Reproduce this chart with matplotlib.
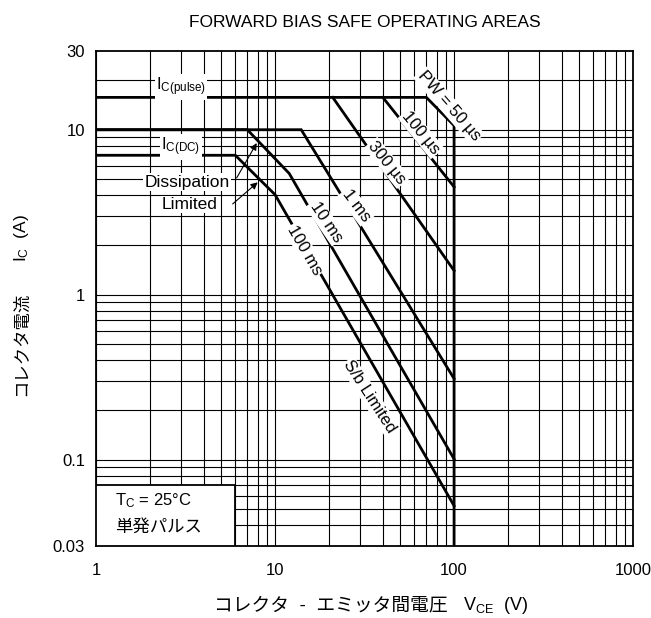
import numpy as np
import matplotlib
matplotlib.use("Agg")
from matplotlib import pyplot as plt
from matplotlib.patches import Rectangle

plt.rcParams['font.family'] = ['Liberation Sans', 'Noto Sans CJK JP']
plt.rcParams['mathtext.fontset'] = 'custom'
plt.rcParams['mathtext.rm'] = 'Liberation Sans'
plt.rcParams['mathtext.it'] = 'Liberation Sans:italic'

# curve data (VCE in V, IC in A)
vce_50us = [1, 70, 100, 100]
ic_50us = [15.7, 15.7, 10.6, 0.03]
vce_100us = [40, 100]
ic_100us = [15.7, 4.5]
vce_300us = [21, 100]
ic_300us = [15.7, 1.4]
vce_1ms = [1, 14, 100]
ic_1ms = [10, 10, 0.31]
vce_10ms = [1, 7, 12, 100]
ic_10ms = [10, 10, 5.43, 0.101]
vce_100ms = [1, 6, 10, 100]
ic_100ms = [7, 7, 4.04, 0.0526]

x_ticks = [1, 10, 100, 1000]
x_tick_labels = ['1', '10', '100', '1000']
y_ticks = [0.03, 0.1, 1, 10, 30]
y_tick_labels = ['0.03', '0.1', '1', '10', '30']

fig = plt.figure(figsize=(6.51, 6.18), dpi=100)
ax = fig.add_axes([0.1475, 0.1165, 0.825, 0.801])
ax.set_xscale('log')
ax.set_yscale('log')
ax.set_xlim(1, 1000)
ax.set_ylim(0.03, 30)

# log paper grid
for dec in [1, 10, 100]:
    for m in range(1, 10):
        ax.axvline(dec * m, color='black', lw=0.8, zorder=1)
for dec in [0.01, 0.1, 1, 10]:
    for m in range(1, 10):
        v = dec * m
        if 0.03 < v < 30:
            ax.axhline(v, color='black', lw=0.8, zorder=1)

for xs, ys in [(vce_50us, ic_50us), (vce_100us, ic_100us), (vce_300us, ic_300us),
               (vce_1ms, ic_1ms), (vce_10ms, ic_10ms), (vce_100ms, ic_100ms)]:
    ax.plot(xs, ys, color='black', lw=2, zorder=3, solid_joinstyle='miter')

ax.set_xticks(x_ticks, x_tick_labels)
ax.set_yticks(y_ticks, y_tick_labels)
ax.minorticks_off()
ax.tick_params(axis='both', length=0, labelsize=12)
ax.tick_params(axis='x', pad=12)
ax.tick_params(axis='y', pad=8)
for s in ax.spines.values():
    s.set_linewidth(1.3)
    s.set_zorder(4)

box = dict(facecolor='white', edgecolor='none', pad=1)
ax.text(0.158, 0.927, r'$\mathrm{I_{C(pulse)}}$', transform=ax.transAxes, fontsize=12,
        ha='center', va='center', bbox=box, zorder=5)
ax.text(0.158, 0.806, r'$\mathrm{I_{C(DC)}}$', transform=ax.transAxes, fontsize=12,
        ha='center', va='center', bbox=box, zorder=5)
ax.text(0.169, 0.735, 'Dissipation', transform=ax.transAxes, fontsize=12.5,
        ha='center', va='center', bbox=box, zorder=5)
ax.text(0.175, 0.690, 'Limited', transform=ax.transAxes, fontsize=12.5,
        ha='center', va='center', bbox=box, zorder=5)
arrow = dict(arrowstyle='-|>', color='black', lw=0.8, mutation_scale=10, shrinkA=0, shrinkB=0)
ax.annotate('', xy=(7.9, 8.3), xytext=(6.1, 5.1), arrowprops=arrow, zorder=5)
ax.annotate('', xy=(8.0, 4.8), xytext=(5.8, 3.55), arrowprops=arrow, zorder=5)

curve_labels = [
    ('PW = 50 µs', 0.657, 0.889, -49),
    ('100 µs', 0.605, 0.834, -51),
    ('300 µs', 0.542, 0.774, -51),
    ('1 ms', 0.484, 0.687, -53),
    ('10 ms', 0.428, 0.655, -56),
    ('100 ms', 0.389, 0.598, -60),
    ('S/b Limited', 0.510, 0.301, -57),
]
for txt, tx, ty, rot in curve_labels:
    ax.text(tx, ty, txt, transform=ax.transAxes, fontsize=12, rotation=rot,
            ha='center', va='center', rotation_mode='anchor', bbox=box, zorder=5)

ax.add_patch(Rectangle((1, 0.03), 5, 0.04, facecolor='white', edgecolor='black',
                       lw=1.3, zorder=5))
ax.text(0.035, 0.091, r'$\mathrm{T_C}$ = 25°C', transform=ax.transAxes, fontsize=12,
        ha='left', va='center', zorder=6)
ax.text(0.035, 0.038, '単発パルス', transform=ax.transAxes, fontsize=12.5,
        ha='left', va='center', zorder=6)

ax.set_title('FORWARD BIAS SAFE OPERATING AREAS', fontsize=12.5, pad=17)

# axis labels: Japanese part and subscripted symbol drawn as two pieces
fig.text(0.688, 0.013, 'コレクタ  -  エミッタ間電圧', fontsize=13.5,
         ha='right', va='baseline')
fig.text(0.711, 0.013, r'$\mathrm{V_{CE}}$  (V)', fontsize=13,
         ha='left', va='baseline')
fig.text(0.040, 0.5275, 'コレクタ電流', fontsize=12.5, rotation=90,
         rotation_mode='anchor', ha='right', va='baseline')
fig.text(0.040, 0.576, r'$\mathrm{I_C}$  (A)', fontsize=12.5, rotation=90,
         rotation_mode='anchor', ha='left', va='baseline')

fig.savefig('out.png', dpi=100)
